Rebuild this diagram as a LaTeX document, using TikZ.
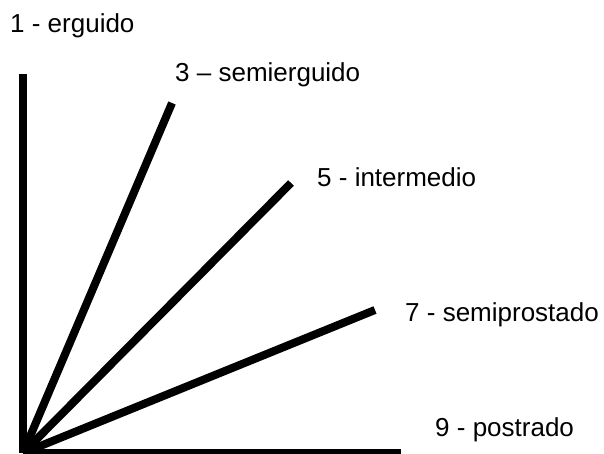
\documentclass[tikz,border=0pt]{standalone}
\usepackage{fontspec}
\setmainfont{Liberation Sans}
\tikzset{
  stem/.style={line width=8pt, line cap=butt},
  lbl/.style={anchor=base west, inner sep=0pt, font=\fontsize{26}{30}\selectfont}
}
\begin{document}
\begin{tikzpicture}[x=1pt, y=-1pt]
            \useasboundingbox (0,0) rectangle (604,454);

            \coordinate (o) at (23,453);
            \coordinate (p1) at (23,74);
            \coordinate (p3) at (172,103);
            \coordinate (p5) at (291,183);
            \coordinate (p7) at (375,310);
            \coordinate (p9) at (401,453);

            \draw[stem] (o) -- (p1);
            \draw[stem] (o) -- (p3);
            \draw[stem] (o) -- (p5);
            \draw[stem] (o) -- (p7);
            \draw[stem] (o) -- (p9);

            \node[lbl] (l1) at (10,33) {1 - erguido};
            \node[lbl] (l3) at (175,82) {3 – semierguido};
            \node[lbl] (l5) at (317,187) {5 - intermedio};
            \node[lbl] (l7) at (405,321) {7 - semiprostado};
            \node[lbl] (l9) at (435,436) {9 - postrado};
        \end{tikzpicture}
\end{document}
